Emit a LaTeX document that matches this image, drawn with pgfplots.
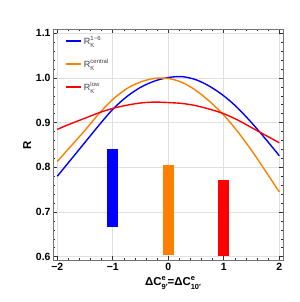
\documentclass[border=0pt]{standalone}
\usepackage{pgfplots}
\pgfplotsset{compat=1.18}
\usepackage{fontspec}
\setmainfont{Liberation Sans}
\usetikzlibrary{calc}
\definecolor{cblue}{RGB}{0,0,255}
\definecolor{corange}{RGB}{255,128,0}
\definecolor{cred}{RGB}{255,0,0}
\newcommand{\supsub}[3][6]{%
 \setbox0=\hbox{\fontsize{#1}{#1}\selectfont #2}\setbox2=\hbox{\fontsize{#1}{#1}\selectfont #3}%
 \raisebox{0.9ex}{\rlap{\copy0}}\raisebox{-0.6ex}{\rlap{\copy2}}%
 \ifdim\wd0>\wd2 \hspace{\wd0}\else\hspace{\wd2}\fi}
\begin{document}
\begin{tikzpicture}
\begin{axis}[name=ax,
  scale only axis, width=230bp, height=231bp,
  xmin=-2.077, xmax=2.067, ymin=0.5915, ymax=1.1085,
  xtick={-2,-1,0,1,2}, xticklabels={−2,−1,0,1,2},
  ytick={0.6,0.7,0.8,0.9,1.0,1.1}, yticklabels={0.6,0.7,0.8,0.9,1.0,1.1},
  minor x tick num=4, minor y tick num=4,
  tick align=inside, major tick length=4bp, minor tick length=2bp,
  tick style={black!80, line width=0.6bp},
  axis line style={black!55, line width=1bp},
  grid=major, major grid style={black!12, line width=0.6bp},
  ticklabel style={font=\fontsize{10.5}{11}\selectfont\bfseries},
  xticklabel style={yshift=1bp},
  yticklabel style={xshift=1bp},
  /pgf/number format/assume math mode=true,
  xlabel={\bfseries ΔC\supsub[7.5]{e}{9′}=ΔC\supsub[7.5]{e}{10′}},
  xlabel style={font=\fontsize{11.5}{12}\selectfont, yshift=1bp},
  ylabel={\bfseries R},
  ylabel style={font=\fontsize{11.5}{12}\selectfont, yshift=-2bp},
  legend style={draw=none, fill=none, at={(0.04,0.99)}, anchor=north west,
    font=\fontsize{9}{10}\selectfont, text=black!75, row sep=9bp},
  legend cell align=left,
  legend image code/.code={\draw[#1, line width=1.6bp] (0bp,0bp) -- (15bp,0bp);},
]
\addplot[cblue, line width=1.4bp, smooth] coordinates {
(-2,0.780) (-1.75,0.818) (-1.5,0.856) (-1.25,0.894) (-1,0.930) (-0.75,0.958)
(-0.5,0.979) (-0.25,0.993) (0,1.001) (0.25,1.003) (0.5,0.996) (0.75,0.981)
(1,0.960) (1.25,0.933) (1.5,0.900) (1.75,0.864) (2,0.826)};
\addlegendentry{R\supsub{1−6}{K}}
\addplot[corange, line width=1.4bp, smooth] coordinates {
(-2,0.813) (-1.75,0.848) (-1.5,0.883) (-1.25,0.920) (-1,0.952) (-0.75,0.976)
(-0.5,0.991) (-0.25,0.999) (0,0.999) (0.25,0.990) (0.5,0.972) (0.75,0.947)
(1,0.917) (1.25,0.880) (1.5,0.838) (1.75,0.792) (2,0.745)};
\addlegendentry{R\supsub{central}{K}}
\addplot[cred, line width=1.4bp, smooth] coordinates {
(-2,0.885) (-1.75,0.898) (-1.5,0.910) (-1.25,0.922) (-1,0.932) (-0.75,0.939)
(-0.5,0.944) (-0.25,0.946) (0,0.945) (0.25,0.943) (0.5,0.938) (0.75,0.930)
(1,0.920) (1.25,0.906) (1.5,0.889) (1.75,0.872) (2,0.855)};
\addlegendentry{R\supsub{low}{K}}
\addplot[cblue, line width=11bp, forget plot] coordinates {(-1,0.666) (-1,0.842)};
\addplot[corange, line width=11bp, forget plot] coordinates {(0,0.604) (0,0.806)};
\addplot[cred, line width=11bp, forget plot] coordinates {(1,0.602) (1,0.771)};
\end{axis}
\pgfresetboundingbox
\path[use as bounding box] ($(ax.south west)+(-53bp,-41.5bp)$) rectangle ($(ax.north east)+(17bp,29.5bp)$);
\end{tikzpicture}
\end{document}
